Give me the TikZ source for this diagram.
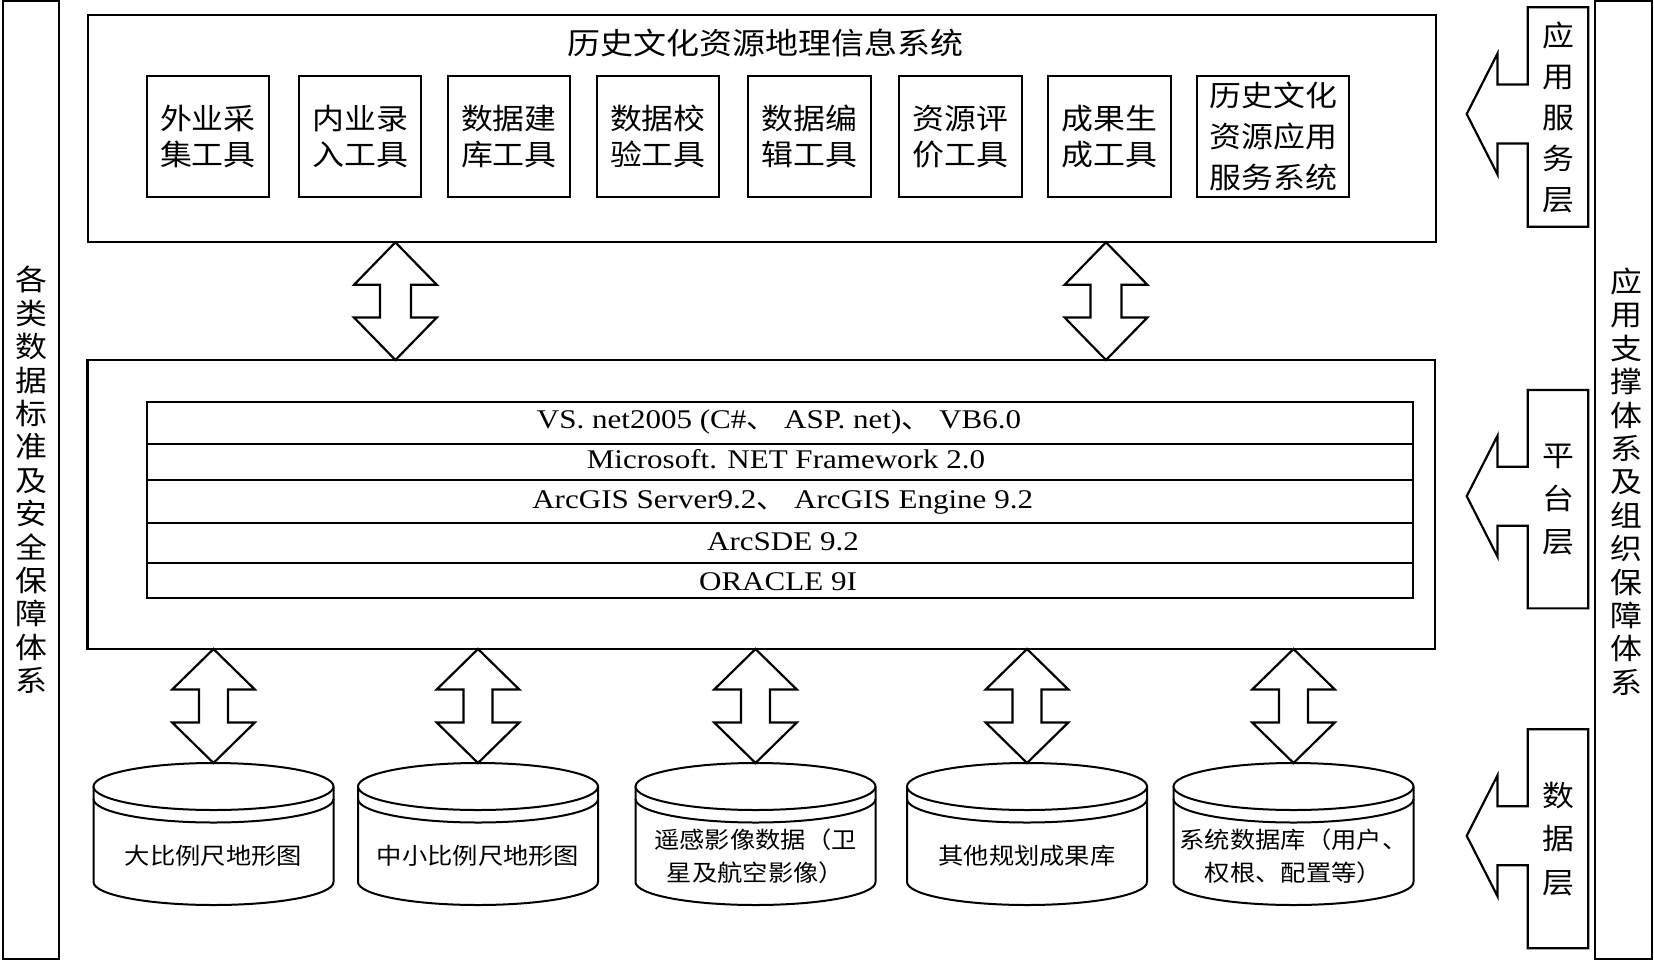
\documentclass[tikz,border=0pt]{standalone}
\usepackage{fontspec}
\setmainfont{Liberation Serif}
\newfontfamily\cjk{Noto Sans CJK SC}[FakeStretch=1.1]
\newfontfamily\tabfont{Liberation Serif}[FakeStretch=1.15]
\usetikzlibrary{calc}
\tikzset{
  ln/.style={line width=2.2pt, draw=black},
  box/.style={ln, rectangle, inner sep=0pt, outer sep=0pt, fill=white},
  toolbox/.style={box, minimum width=122.3pt, minimum height=121.6pt, align=center,
    font=\cjk\fontsize{29pt}{36pt}\selectfont},
  blockarrow/.style={ln, fill=white, line join=miter},
  cl/.style={line width=2pt, draw=black},
  cyltext/.style={inner sep=0pt, align=center, font=\cjk\fontsize{23pt}{33pt}\selectfont},
  tabtext/.style={inner sep=0pt, font=\tabfont\fontsize{27pt}{30pt}\selectfont},
  vtext/.style={inner sep=0pt, align=center, font=\cjk\fontsize{29pt}{33.4pt}\selectfont},
  lbl/.style={rectangle, minimum width=60.6pt, inner sep=0pt, outer sep=0pt, align=center},
}
\newcommand\dun{{\cjk 、}\hspace{8pt}}
% double block arrow between two tip points
\newcommand\dblarrow[5]{%
  \path #1 coordinate (da) #2 coordinate (db);
  \draw[blockarrow] (da) -- ($(da)+(#4,#3)$) -- ($(da)+(#5,#3)$) -- ($(db)+(#5,-#3)$)
    -- ($(db)+(#4,-#3)$) -- (db) -- ($(db)+(-#4,-#3)$) -- ($(db)+(-#5,-#3)$)
    -- ($(da)+(-#5,#3)$) -- ($(da)+(-#4,#3)$) -- cycle;}
% database cylinder
\newcommand\cyl[3]{%
  \coordinate (#1) at (#2,763);
  \draw[cl, fill=white] (#2-120,786.5) -- (#2-120,882)
    arc[start angle=180,end angle=0,x radius=120,y radius=23] -- (#2+120,786.5);
  \draw[cl, fill=white] (#2,786.5) ellipse[x radius=120,y radius=23.5];
  \draw[cl] (#2-120,799) arc[start angle=180,end angle=0,x radius=120,y radius=23.5];
  \node[cyltext] (#1t) at (#2,856) {#3};}
% layer label with left arrow
\newcommand\layer[5]{%
  \node[lbl, minimum height=#3pt, font=\cjk\fontsize{29pt}{#4pt}\selectfont] (#1) at (1558,#2) {#5};
  \coordinate (#1a) at ($(#1.west)+(0,-3)$);
  \draw[ln, line join=miter] (#1.north west) -- (#1.north east) -- (#1.south east) -- (#1.south west)
    -- ($(#1a)+(0,29.5)$) -- ($(#1a)+(-30.2,29.5)$) -- ($(#1a)+(-30.2,60.5)$)
    -- ($(#1a)+(-61,0)$) -- ($(#1a)+(-30.2,-60.5)$) -- ($(#1a)+(-30.2,-29.5)$)
    -- ($(#1a)+(0,-29.5)$) -- cycle;}
\begin{document}
\begin{tikzpicture}[x=1pt,y=-1pt]
\fill[white] (0,0) rectangle (1654,961);
\useasboundingbox (0,0) rectangle (1654,961);

% side bands
\node[box, minimum width=56pt, minimum height=957.8pt, align=center,
  font=\cjk\fontsize{29pt}{33.4pt}\selectfont] (lband) at (31,480)
  {各\\类\\数\\据\\标\\准\\及\\安\\全\\保\\障\\体\\系};
\node[box, minimum width=57pt, minimum height=957.8pt] (rband) at (1623.5,480) {};
\node[vtext] (rbandt) at (1626,481.5) {应\\用\\支\\撑\\体\\系\\及\\组\\织\\保\\障\\体\\系};

% top box
\node[box, minimum width=1347.7pt, minimum height=227.6pt] (top) at (761.85,128.5) {};
\node[inner sep=0pt, font=\cjk\fontsize{30pt}{30pt}\selectfont] (title) at (765,43) {历史文化资源地理信息系统};
\node[toolbox] (t1) at (207.85,136.5) {外业采\\集工具};
\node[toolbox] (t2) at (360.15,136.5) {内业录\\入工具};
\node[toolbox] (t3) at (508.85,136.5) {数据建\\库工具};
\node[toolbox] (t4) at (657.85,136.5) {数据校\\验工具};
\node[toolbox] (t5) at (809.45,136.5) {数据编\\辑工具};
\node[toolbox] (t6) at (960.45,136.5) {资源评\\价工具};
\node[toolbox] (t7) at (1109.45,136.5) {成果生\\成工具};
\node[toolbox, minimum width=152pt, font=\cjk\fontsize{29pt}{41pt}\selectfont] (t8) at (1273.3,136.5) {历史文化\\资源应用\\服务系统};

% middle box with table
\node[box, minimum width=1347.5pt, minimum height=289pt] (mid) at (761.25,504.5) {};
\node[box, minimum width=1266pt, minimum height=196.6pt] (tab) at (780.3,500) {};
\draw[ln] (147.3,444.3) -- (1413.3,444.3);
\draw[ln] (147.3,480) -- (1413.3,480);
\draw[ln] (147.3,522.7) -- (1413.3,522.7);
\draw[ln] (147.3,562.7) -- (1413.3,562.7);
\node[tabtext, anchor=base] (r1) at (779,428.3) {VS. net2005 (C\#\dun ASP. net)\dun VB6.0};
\node[tabtext, anchor=base] (r2) at (786,468.3) {Microsoft. NET Framework 2.0};
\node[tabtext, anchor=base] (r3) at (782.7,508) {ArcGIS Server9.2\dun ArcGIS Engine 9.2};
\node[tabtext, anchor=base] (r4) at (783,550.5) {ArcSDE 9.2};
\node[tabtext, anchor=base] (r5) at (778,590) {ORACLE 9I};

% arrows top <-> middle
\coordinate (ua) at (395.4,0);
\coordinate (ub) at (1106,0);
\dblarrow{(top.south -| ua)}{(mid.north -| ua)}{42.5}{41.4}{15.5}
\dblarrow{(top.south -| ub)}{(mid.north -| ub)}{42.5}{41.4}{15.5}

% databases
\cyl{c1}{213.5}{大比例尺地形图}
\cyl{c2}{478}{中小比例尺地形图}
\cyl{c3}{755.5}{遥感影像数据（卫\\星及航空影像）}
\cyl{c4}{1027}{其他规划成果库}
\cyl{c5}{1293.5}{系统数据库（用户、\\权根、配置等）}

% arrows middle <-> databases
\dblarrow{(mid.south -| c1)}{(c1)}{40.5}{41.3}{14.5}
\dblarrow{(mid.south -| c2)}{(c2)}{40.5}{41.3}{14.5}
\dblarrow{(mid.south -| c3)}{(c3)}{40.5}{41.3}{14.5}
\dblarrow{(mid.south -| c4)}{(c4)}{40.5}{41.3}{14.5}
\dblarrow{(mid.south -| c5)}{(c5)}{40.5}{41.3}{14.5}

% layer labels
\layer{l1}{117}{219.4}{41}{应\\用\\服\\务\\层}
\layer{l2}{499.2}{218.3}{43}{平\\台\\层}
\layer{l3}{838.8}{219}{43.5}{数\\据\\层}
\end{tikzpicture}
\end{document}
